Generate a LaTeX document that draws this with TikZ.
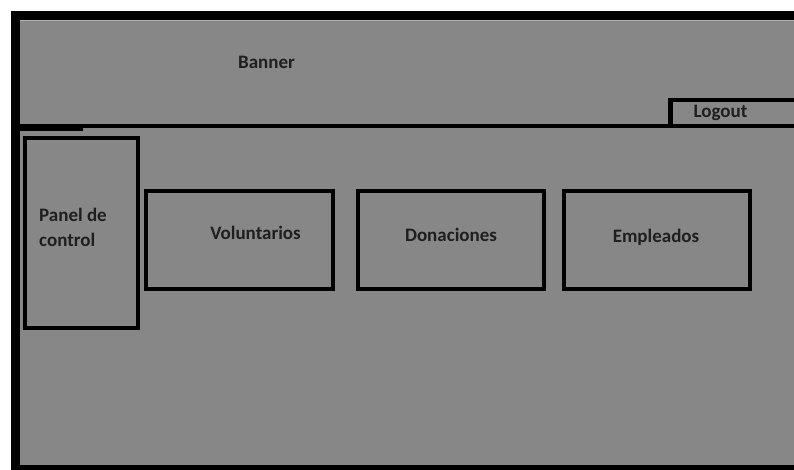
\documentclass[tikz,border=0pt]{standalone}
\usepackage{fontspec}
\setmainfont{Carlito}
\begin{document}
\begin{tikzpicture}[x=1pt,y=-1pt,
  lbl/.style={font=\fontsize{19}{24}\selectfont\bfseries, text=black!88, inner sep=0pt, anchor=base},
  menubox/.style={draw=black, line width=4pt, minimum width=#1, inner sep=0pt},
  bar/.style={fill=black, draw=none}]
\useasboundingbox (0,0) rectangle (794,470);
\fill[white] (0,0) rectangle (794,470);
\fill[black!47] (11,11) rectangle (794,470);
% outer frame
\fill[black] (11,11) rectangle (20,470);
\fill[black] (11,11) rectangle (794,20);
\draw[black!30, line width=0.8pt] (20.4,20.4) -- (794,20.4);
\fill[black] (11,465) rectangle (794,470);
% banner separator
\fill[black] (20,124.5) rectangle (794,128);
\fill[black] (20,124.5) rectangle (83,131);
% logout box
\fill[black] (668,98) rectangle (673,128);
\fill[black] (668,98) rectangle (794,102);
% boxes
\node[menubox=113pt, minimum height=190pt] (panel) at (81.5,233) {};
\node[menubox=187pt, minimum height=98pt] (vol) at (239.5,240) {};
\node[menubox=186pt, minimum height=98pt] (don) at (451,240) {};
\node[menubox=186pt, minimum height=98pt] (emp) at (657,240) {};
% texts
\node[lbl] (banner) at (266.5,69) {Banner};
\node[lbl] (logout) at (720.5,118) {Logout};
\node[lbl, anchor=base west] (panelA) at (39,222) {Panel de};
\node[lbl, anchor=base west] (panelB) at (39,246) {control};
\node[lbl] (volt) at (255.5,240) {Voluntarios};
\node[lbl] (dont) at (451,241) {Donaciones};
\node[lbl] (empt) at (656,243) {Empleados};
\end{tikzpicture}
\end{document}
